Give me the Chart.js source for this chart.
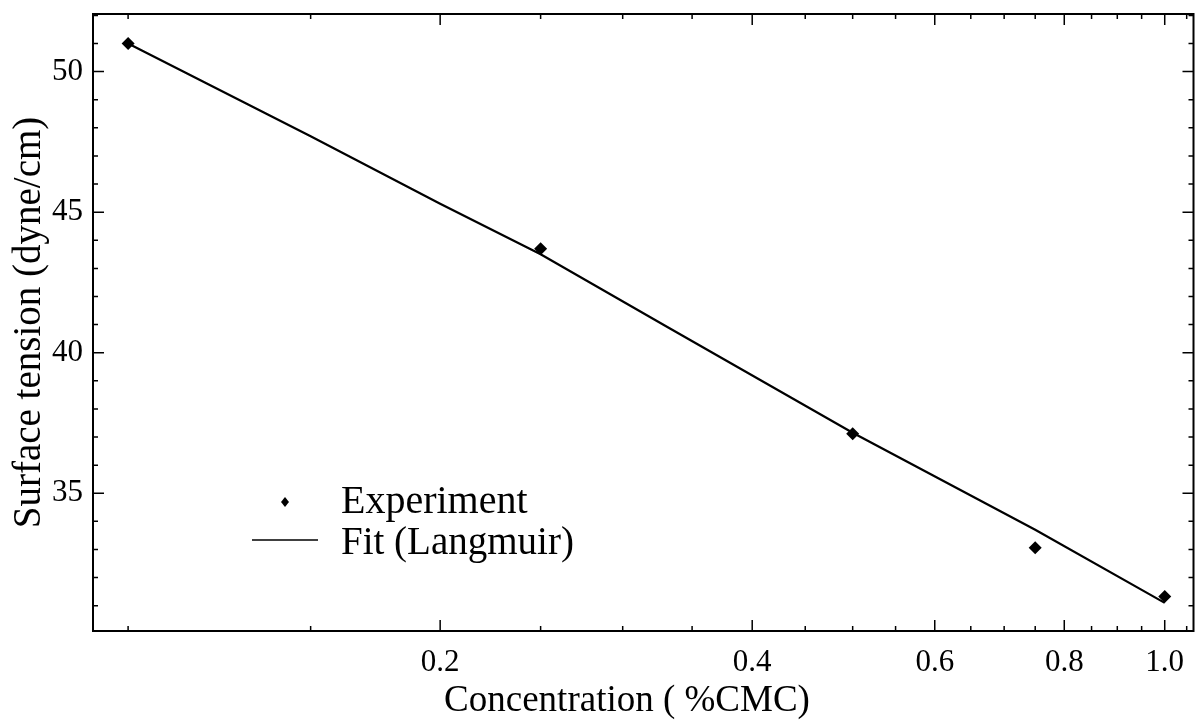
<!DOCTYPE html>
<html>
<head>
<meta charset="utf-8">
<script src="https://cdn.jsdelivr.net/npm/chart.js@4/dist/chart.umd.min.js"></script>
<style>
  html, body { margin: 0; padding: 0; background: #fff; }
  #wrap { width: 1200px; height: 723px; }
</style>
</head>
<body>
<div id="wrap"><canvas id="tensionChart"></canvas></div>
<script>
// data
const concentration = [0.1, 0.25, 0.5, 0.75, 1.0];
const surfaceTension = [51.0, 43.7, 37.12, 33.06, 31.33];

const fitConcentration = [0.1, 0.15, 0.2, 0.25, 0.33, 0.5, 0.75, 1.0];
const fitTension = [51.0, 47.7, 45.3, 43.5, 40.95, 37.15, 33.7, 31.1];

const xLabelTicks = [0.2, 0.4, 0.6, 0.8, 1.0];
const yLabelTicks = [35, 40, 45, 50];
const xMinorTicks = [0.1, 0.15, 0.2, 0.25, 0.3, 0.35, 0.4, 0.45, 0.5, 0.55, 0.6, 0.65, 0.7, 0.75, 0.8, 0.85, 0.9, 0.95, 1.0, 1.05];
const yMinorTicks = [31, 32, 33, 34, 35, 36, 37, 38, 39, 40, 41, 42, 43, 44, 45, 46, 47, 48, 49, 50, 51, 52];

const xTitle = 'Concentration ( %CMC)';
const serif = '"Liberation Serif", "Times New Roman", serif';

// frame with inward ticks on all four sides, legend and x title
const framePlugin = {
  id: 'frame',
  afterDatasetsDraw(chart) {
    const { ctx, chartArea: a, scales } = chart;
    ctx.save();
    ctx.strokeStyle = '#000';
    ctx.lineWidth = 2;
    ctx.strokeRect(a.left, a.top, a.right - a.left, a.bottom - a.top);
    ctx.lineWidth = 1.5;
    ctx.beginPath();
    xMinorTicks.forEach(v => {
      const px = scales.x.getPixelForValue(v);
      const len = xLabelTicks.includes(v) ? 11 : 5;
      ctx.moveTo(px, a.bottom); ctx.lineTo(px, a.bottom - len);
      ctx.moveTo(px, a.top); ctx.lineTo(px, a.top + len);
    });
    yMinorTicks.forEach(v => {
      const py = scales.y.getPixelForValue(v);
      const len = yLabelTicks.includes(v) ? 11 : 5;
      ctx.moveTo(a.left, py); ctx.lineTo(a.left + len, py);
      ctx.moveTo(a.right, py); ctx.lineTo(a.right - len, py);
    });
    ctx.stroke();

    // legend inside the plot
    const ds = chart.data.datasets;
    const lx = a.left + 192, tx = a.left + 248;
    const y1 = a.top + 488, y2 = a.top + 526;
    ctx.fillStyle = '#000';
    ctx.font = '40px ' + serif;
    ctx.textBaseline = 'middle';
    ctx.beginPath();
    ctx.moveTo(lx, y1 - 5); ctx.lineTo(lx + 4, y1); ctx.lineTo(lx, y1 + 5); ctx.lineTo(lx - 4, y1);
    ctx.closePath();
    ctx.fill();
    ctx.fillText(ds[0].label, tx, y1);
    ctx.lineWidth = 1.5;
    ctx.beginPath();
    ctx.moveTo(lx - 33, y2); ctx.lineTo(lx + 33, y2);
    ctx.stroke();
    ctx.font = '39px ' + serif;
    ctx.fillText(ds[1].label, tx, y2 + 4);

    // x axis title, a little left of centre as in the figure
    ctx.font = '37px ' + serif;
    ctx.textAlign = 'center';
    ctx.fillText(xTitle, a.left + 534, chart.height - 22);
    ctx.restore();
  }
};

const config = {
  type: 'scatter',
  data: {
    datasets: [{
      label: 'Experiment',
      data: concentration.map((c, i) => ({ x: c, y: surfaceTension[i] })),
      pointStyle: 'rectRot',
      pointRadius: 6.5,
      backgroundColor: '#000',
      borderColor: '#000',
      borderWidth: 0
    }, {
      label: 'Fit (Langmuir)',
      data: fitConcentration.map((c, i) => ({ x: c, y: fitTension[i] })),
      showLine: true,
      pointRadius: 0,
      borderColor: '#000',
      borderWidth: 2.2,
      tension: 0
    }]
  },
  options: {
    responsive: true,
    maintainAspectRatio: false,
    animation: false,
    layout: { padding: { top: 14, right: 2, left: 0, bottom: 0 } },
    plugins: { legend: { display: false }, tooltip: { enabled: false } },
    scales: {
      x: {
        type: 'logarithmic',
        min: 0.0925,
        max: 1.066,
        grid: { display: false },
        border: { display: false },
        afterBuildTicks: s => { s.ticks = xLabelTicks.map(v => ({ value: v })); },
        afterFit: s => { s.height = 92; s.paddingLeft = 0; s.paddingRight = 0; },
        ticks: {
          color: '#000',
          font: { family: serif, size: 31 },
          padding: 5,
          maxRotation: 0,
          callback: v => Number(v).toFixed(1)
        }
      },
      y: {
        min: 30.1,
        max: 52.05,
        grid: { display: false },
        border: { display: false },
        afterBuildTicks: s => { s.ticks = yLabelTicks.map(v => ({ value: v })); },
        afterFit: s => { s.width = 93; s.paddingTop = 0; s.paddingBottom = 0; },
        ticks: {
          color: '#000',
          font: { family: serif, size: 31 },
          padding: 2
        },
        title: {
          display: true,
          text: 'Surface tension (dyne/cm)',
          color: '#000',
          font: { family: serif, size: 39 },
          padding: { top: 6, bottom: 0 }
        }
      }
    }
  },
  plugins: [framePlugin]
};

const ctx = document.getElementById('tensionChart').getContext('2d');
const tensionChart = new Chart(ctx, config);
</script>
</body>
</html>
